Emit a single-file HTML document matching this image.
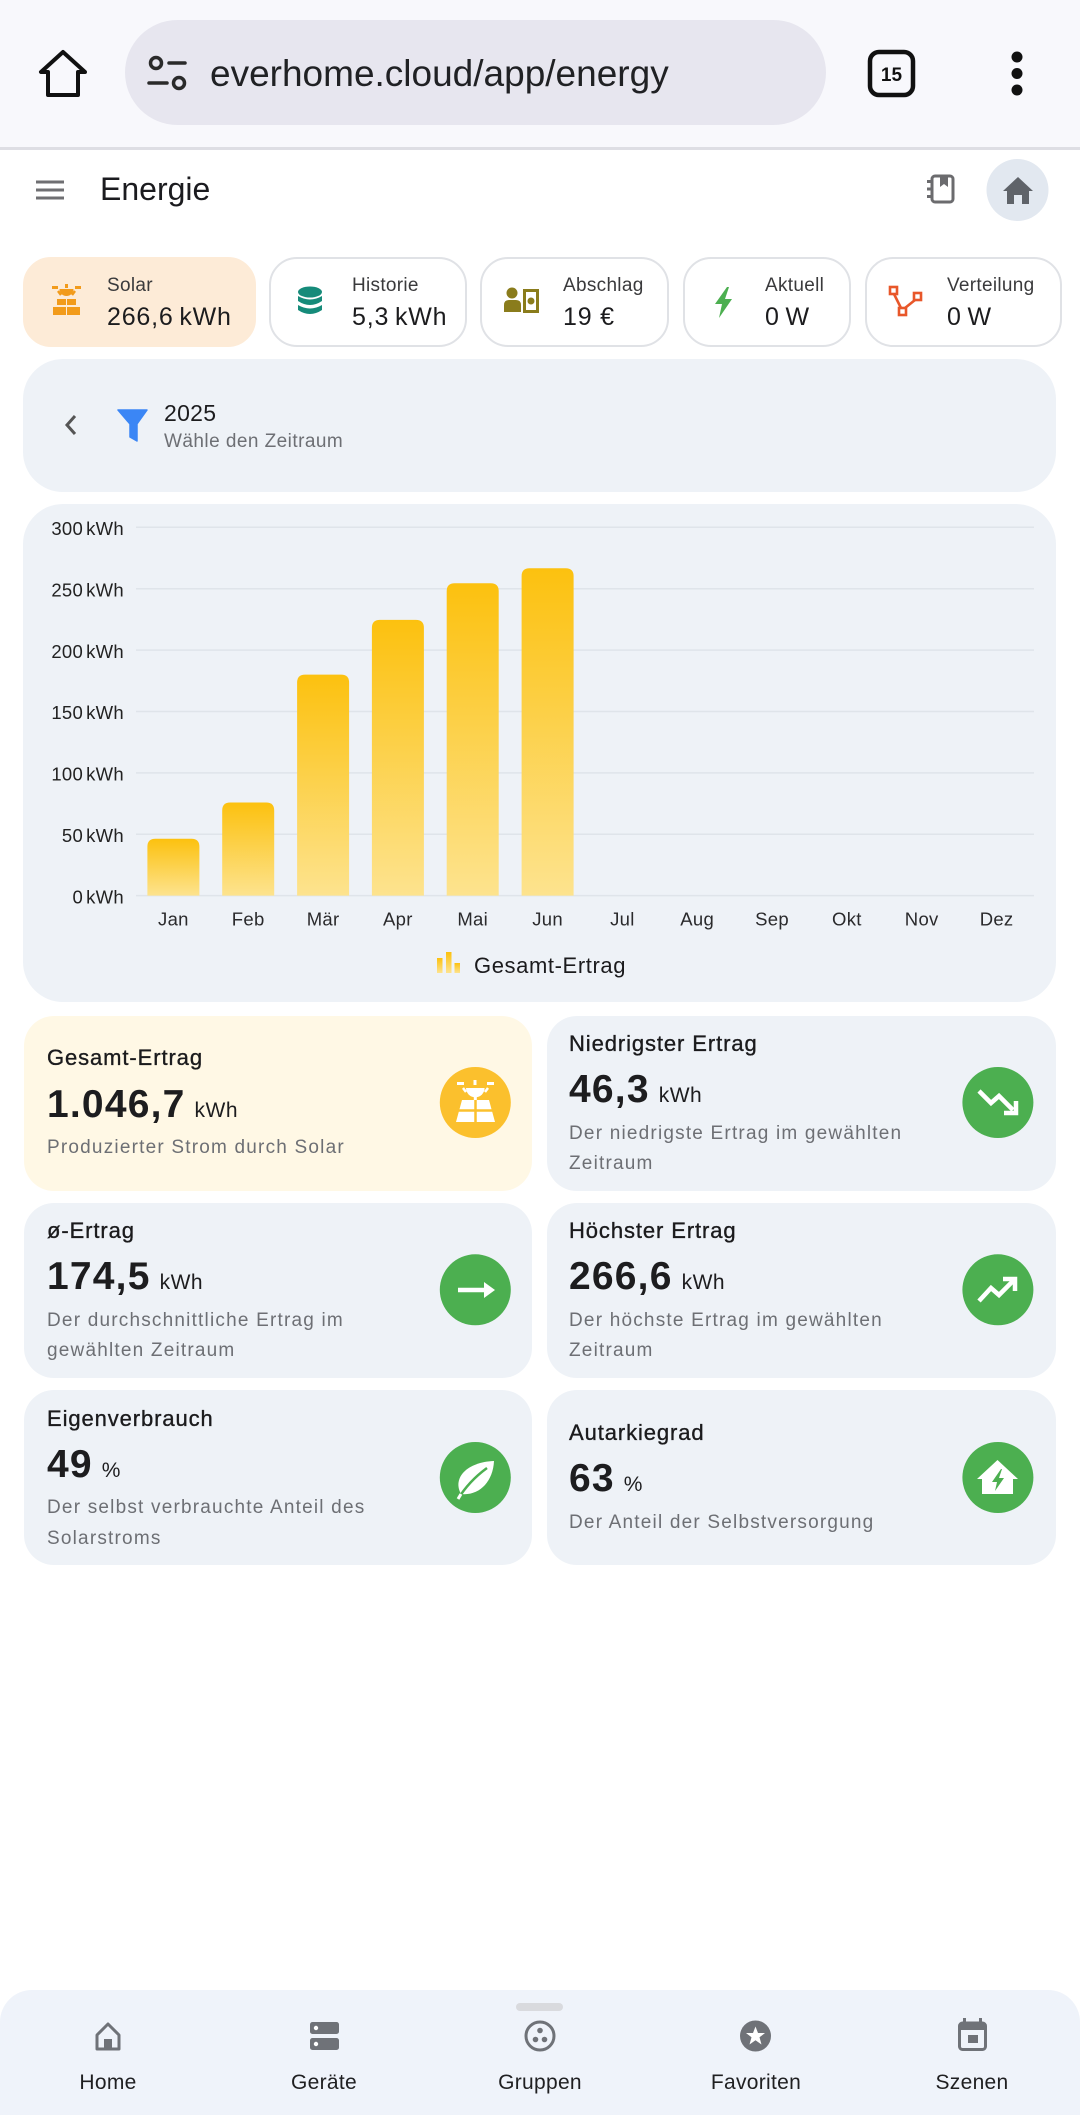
<!DOCTYPE html>
<html><head><meta charset="utf-8">
<style>
*{margin:0;padding:0;box-sizing:border-box}
html,body{width:1080px;height:2115px;background:#fff;overflow:hidden}
body{position:relative;font-family:"Liberation Sans",Arial,sans-serif;color:#1c1c1e}
.a{position:absolute}
.t{position:absolute;white-space:nowrap;line-height:1;z-index:3}
.chip{position:absolute;top:257px;height:90px;border-radius:28px;border:2px solid #e0e2e6;background:#fff}
.card{position:absolute;background:#eef2f7;border-radius:30px}
.cl{font-size:19px;color:#3a3a3c;letter-spacing:0.3px}
.cv{font-size:25px;color:#1c1c1e;letter-spacing:0.8px}
.st{font-size:22px;color:#1b1b1d;letter-spacing:0.9px;-webkit-text-stroke:0.35px #1b1b1d}
.sv{font-size:39px;font-weight:700;color:#1d1d1f;letter-spacing:1.2px}
.sv span{font-size:21px;font-weight:400;letter-spacing:0.5px;margin-left:9px}
.sd{position:absolute;white-space:nowrap;z-index:3;font-size:19px;line-height:30.4px;color:#6d6f74;letter-spacing:1.2px}
.nl{font-size:21px;color:#1f1f21;letter-spacing:0.3px;width:216px;text-align:center}
svg{position:absolute;left:0;top:0;z-index:2}
</style></head><body>

<!-- browser bar -->
<div class="a" style="left:0;top:0;width:1080px;height:147px;background:#f8f8fc"></div>
<div class="a" style="left:0;top:147px;width:1080px;height:3px;background:#dedee4"></div>
<div class="a" style="left:125px;top:20px;width:701px;height:105px;border-radius:53px;background:#e7e6ef"></div>
<div class="t" style="left:210px;top:55px;font-size:37px;color:#202124">everhome.cloud/app/energy</div>

<!-- app bar -->
<div class="t" style="left:100px;top:173px;font-size:32px;color:#1b1b1f">Energie</div>

<!-- chips -->
<div class="chip" style="left:23px;width:233px;background:#fdebd7;border-color:#fdebd7"></div>
<div class="chip" style="left:269px;width:198px"></div>
<div class="chip" style="left:480px;width:189px"></div>
<div class="chip" style="left:683px;width:168px"></div>
<div class="chip" style="left:865px;width:197px"></div>
<div class="t cl" style="left:107px;top:275.6px">Solar</div>
<div class="t cv" style="left:107px;top:304.8px">266,6&#8201;kWh</div>
<div class="t cl" style="left:352px;top:275.6px">Historie</div>
<div class="t cv" style="left:352px;top:304.8px">5,3&#8201;kWh</div>
<div class="t cl" style="left:563px;top:275.6px">Abschlag</div>
<div class="t cv" style="left:563px;top:304.8px">19 €</div>
<div class="t cl" style="left:765px;top:275.6px">Aktuell</div>
<div class="t cv" style="left:765px;top:304.8px">0&#8201;W</div>
<div class="t cl" style="left:947px;top:275.6px">Verteilung</div>
<div class="t cv" style="left:947px;top:304.8px">0&#8201;W</div>

<!-- filter card -->
<div class="card" style="left:23px;top:359px;width:1033px;height:133px;border-radius:40px"></div>
<div class="t" style="left:164px;top:402.2px;font-size:23px;color:#1c1c1e;letter-spacing:0.3px">2025</div>
<div class="t" style="left:164px;top:432.2px;font-size:19px;color:#6d6f74;letter-spacing:0.45px">Wähle den Zeitraum</div>

<!-- chart card -->
<div class="card" style="left:23px;top:504px;width:1033px;height:498px;border-radius:40px"></div>

<!-- stat cards -->
<div class="card" style="left:24px;top:1015.5px;width:508px;height:175px;background:#fff8e5"></div>
<div class="card" style="left:547px;top:1015.5px;width:509px;height:175px"></div>
<div class="card" style="left:24px;top:1202.7px;width:508px;height:175px"></div>
<div class="card" style="left:547px;top:1202.7px;width:509px;height:175px"></div>
<div class="card" style="left:24px;top:1390.3px;width:508px;height:175px"></div>
<div class="card" style="left:547px;top:1390.3px;width:509px;height:175px"></div>

<div class="t st" style="left:47px;top:1047.4px">Gesamt-Ertrag</div>
<div class="t sv" style="left:47px;top:1084.5px">1.046,7<span>kWh</span></div>
<div class="sd" style="left:47px;top:1132.7px">Produzierter Strom durch Solar</div>

<div class="t st" style="left:569px;top:1033.2px">Niedrigster Ertrag</div>
<div class="t sv" style="left:569px;top:1069.8px">46,3<span>kWh</span></div>
<div class="sd" style="left:569px;top:1118.5px">Der niedrigste Ertrag im gewählten<br>Zeitraum</div>

<div class="t st" style="left:47px;top:1220.4px">ø-Ertrag</div>
<div class="t sv" style="left:47px;top:1257px">174,5<span>kWh</span></div>
<div class="sd" style="left:47px;top:1305.7px">Der durchschnittliche Ertrag im<br>gewählten Zeitraum</div>

<div class="t st" style="left:569px;top:1220.4px">Höchster Ertrag</div>
<div class="t sv" style="left:569px;top:1257px">266,6<span>kWh</span></div>
<div class="sd" style="left:569px;top:1305.7px">Der höchste Ertrag im gewählten<br>Zeitraum</div>

<div class="t st" style="left:47px;top:1408px">Eigenverbrauch</div>
<div class="t sv" style="left:47px;top:1444.6px">49<span>%</span></div>
<div class="sd" style="left:47px;top:1493.3px">Der selbst verbrauchte Anteil des<br>Solarstroms</div>

<div class="t st" style="left:569px;top:1422.2px">Autarkiegrad</div>
<div class="t sv" style="left:569px;top:1458.8px">63<span>%</span></div>
<div class="sd" style="left:569px;top:1507.5px">Der Anteil der Selbstversorgung</div>

<!-- bottom nav -->
<div class="a" style="left:0;top:1990px;width:1080px;height:125px;background:#eff3fa;border-radius:32px 32px 0 0"></div>
<div class="t nl" style="left:0;top:2072.2px">Home</div>
<div class="t nl" style="left:216px;top:2072.2px">Geräte</div>
<div class="t nl" style="left:432px;top:2072.2px">Gruppen</div>
<div class="t nl" style="left:648px;top:2072.2px">Favoriten</div>
<div class="t nl" style="left:864px;top:2072.2px">Szenen</div>

<svg width="1080" height="2115" viewBox="0 0 1080 2115" xmlns="http://www.w3.org/2000/svg">
<defs>
<linearGradient id="bg" x1="0" y1="0" x2="0" y2="1">
<stop offset="0" stop-color="#fcc10f"/><stop offset="1" stop-color="#fde38e"/>
</linearGradient>
</defs>

<!-- browser icons -->
<path d="M63 52 L41 72 L48 72 L48 95 L78 95 L78 72 L85 72 Z" fill="none" stroke="#111" stroke-width="4" stroke-linejoin="round"/>
<g stroke="#2a2a2a" stroke-width="3.5" fill="none" stroke-linecap="round">
<circle cx="156" cy="63" r="5.5"/><line x1="169" y1="63" x2="185" y2="63"/>
<line x1="149" y1="83" x2="167" y2="83"/><circle cx="179" cy="83" r="5.5"/>
</g>
<rect x="870" y="52" width="43" height="43" rx="9" fill="none" stroke="#111" stroke-width="4.5"/>
<text x="891.5" y="81" text-anchor="middle" font-family="Liberation Sans" font-weight="700" font-size="19" fill="#111">15</text>
<circle cx="1017" cy="57" r="5.5" fill="#111"/><circle cx="1017" cy="73.5" r="5.5" fill="#111"/><circle cx="1017" cy="90" r="5.5" fill="#111"/>

<!-- app bar icons -->
<g fill="#6f6f72"><rect x="36" y="180.5" width="28" height="3"/><rect x="36" y="188.5" width="28" height="3"/><rect x="36" y="196.5" width="28" height="3"/></g>
<rect x="932" y="176" width="21" height="26" rx="3" fill="none" stroke="#6b6b6e" stroke-width="3"/>
<path d="M940 176 V187 L944 184 L948 187 V176 Z" fill="#6b6b6e"/>
<g fill="#6b6b6e"><rect x="927" y="180" width="6" height="3"/><rect x="927" y="187.5" width="6" height="3"/><rect x="927" y="195" width="6" height="3"/></g>
<circle cx="1017.5" cy="190" r="31" fill="#e2e8f0"/>
<path d="M1018 177 L1003 191 H1007 V204 H1014 V195 H1022 V204 H1029 V191 H1033 Z" fill="#5f6369"/>

<!-- chip icons -->
<g fill="#f29b1b">
<rect x="52" y="286" width="6" height="3"/><rect x="75" y="286" width="6" height="3"/>
<rect x="65" y="284" width="3" height="4"/>
<path d="M59.5 289 A7 7 0 0 0 73.5 289 Z"/>
<line x1="58" y1="291" x2="61" y2="295" stroke="#f29b1b" stroke-width="2.5"/>
<line x1="75" y1="291" x2="72" y2="295" stroke="#f29b1b" stroke-width="2.5"/>
<rect x="57" y="299" width="9" height="6"/><rect x="67" y="299" width="9" height="6"/>
<rect x="53" y="307" width="13" height="8"/><rect x="67" y="307" width="13" height="8"/>
</g>
<g fill="#168b7a">
<ellipse cx="310" cy="292" rx="12" ry="5.5"/>
<path d="M298 296 Q310 303 322 296 V301 Q310 309 298 301 Z"/>
<path d="M298 305 Q310 312 322 305 V310 Q310 318 298 310 Z"/>
</g>
<g fill="#8a7c1c">
<circle cx="512" cy="293" r="5.5"/>
<path d="M504 312 V305 Q504 300 509 300 H516 Q521 300 521 305 V312 Z"/>
<rect x="523" y="289" width="16" height="24"/>
</g>
<rect x="526" y="292" width="10" height="18" fill="#fff"/>
<circle cx="531" cy="301" r="3.5" fill="#8a7c1c"/>
<path d="M727 287 L715 304 L722 304 L719 318 L732 299 L725 299 L729 287 Z" fill="#4caf50"/>
<g stroke="#e8572a" stroke-width="2.6" fill="none">
<rect x="890" y="287" width="7" height="7"/><rect x="914" y="293" width="7" height="7"/><rect x="899" y="308" width="7" height="7"/>
<line x1="894" y1="294" x2="901" y2="308"/><line x1="905" y1="308" x2="915" y2="300"/>
</g>

<!-- filter card icons -->
<polyline points="75,416 67,425 75,434" fill="none" stroke="#555" stroke-width="3"/>
<path d="M118 410 H147 L137 424 V441 L130 437 V424 Z" fill="#3b86f5" stroke="#3b86f5" stroke-width="1.5" stroke-linejoin="round"/>

<!-- chart -->
<g stroke="#dfe4ea" stroke-width="1.5">
<line x1="136" y1="527.3" x2="1034" y2="527.3"/>
<line x1="136" y1="588.7" x2="1034" y2="588.7"/>
<line x1="136" y1="650.1" x2="1034" y2="650.1"/>
<line x1="136" y1="711.5" x2="1034" y2="711.5"/>
<line x1="136" y1="772.9" x2="1034" y2="772.9"/>
<line x1="136" y1="834.2" x2="1034" y2="834.2"/>
<line x1="136" y1="895.6" x2="1034" y2="895.6"/>
</g>
<g fill="url(#bg)">
<path d="M147.4 895.6 V846.7 Q147.4 838.7 155.4 838.7 H191.4 Q199.4 838.7 199.4 846.7 V895.6 Z"/>
<path d="M222.2 895.6 V810.5 Q222.2 802.5 230.2 802.5 H266.2 Q274.2 802.5 274.2 810.5 V895.6 Z"/>
<path d="M297.1 895.6 V682.6 Q297.1 674.6 305.1 674.6 H341.1 Q349.1 674.6 349.1 682.6 V895.6 Z"/>
<path d="M371.9 895.6 V627.9 Q371.9 619.9 379.9 619.9 H415.9 Q423.9 619.9 423.9 627.9 V895.6 Z"/>
<path d="M446.7 895.6 V591.3 Q446.7 583.3 454.7 583.3 H490.7 Q498.7 583.3 498.7 591.3 V895.6 Z"/>
<path d="M521.6 895.6 V576.2 Q521.6 568.2 529.6 568.2 H565.6 Q573.6 568.2 573.6 576.2 V895.6 Z"/>
</g>
<g font-family="Liberation Sans" font-size="18.5" fill="#222" text-anchor="end" letter-spacing="0.3">
<text x="124" y="535">300<tspan dx="3">kWh</tspan></text>
<text x="124" y="596.4">250<tspan dx="3">kWh</tspan></text>
<text x="124" y="657.8">200<tspan dx="3">kWh</tspan></text>
<text x="124" y="719.2">150<tspan dx="3">kWh</tspan></text>
<text x="124" y="780.6">100<tspan dx="3">kWh</tspan></text>
<text x="124" y="841.9">50<tspan dx="3">kWh</tspan></text>
<text x="124" y="903.3">0<tspan dx="3">kWh</tspan></text>
</g>
<g font-family="Liberation Sans" font-size="18.5" fill="#2a2a2c" text-anchor="middle" letter-spacing="0.3">
<text x="173.4" y="925.7">Jan</text><text x="248.2" y="925.7">Feb</text><text x="323.1" y="925.7">Mär</text>
<text x="397.9" y="925.7">Apr</text><text x="472.7" y="925.7">Mai</text><text x="547.6" y="925.7">Jun</text>
<text x="622.4" y="925.7">Jul</text><text x="697.2" y="925.7">Aug</text><text x="772.1" y="925.7">Sep</text>
<text x="846.9" y="925.7">Okt</text><text x="921.7" y="925.7">Nov</text><text x="996.6" y="925.7">Dez</text>
</g>
<g fill="url(#bg)">
<rect x="437" y="958" width="5.5" height="15"/><rect x="446" y="952" width="5.5" height="21"/><rect x="454.5" y="963" width="5.5" height="10"/>
</g>
<text x="474" y="973" font-family="Liberation Sans" font-size="22" fill="#1b1b1d" letter-spacing="0.6">Gesamt-Ertrag</text>

<!-- stat icons -->
<circle cx="475.3" cy="1102.5" r="35.5" fill="#fbc02d"/>
<g fill="#fff" stroke="#fff">
<rect x="457" y="1082" width="7" height="3" stroke="none"/><rect x="487" y="1082" width="7" height="3" stroke="none"/>
<rect x="473.5" y="1080" width="3" height="5" stroke="none"/>
<line x1="463" y1="1088" x2="466" y2="1092" stroke-width="2.5"/><line x1="488" y1="1088" x2="485" y2="1092" stroke-width="2.5"/>
<path d="M466 1088 A9.3 9.3 0 0 0 484.6 1088 Z" stroke="none"/>
<rect x="473.8" y="1094" width="3" height="7" stroke="none"/>
<polygon points="462,1100 489,1100 495,1122 456,1122" stroke="none"/>
</g>
<line x1="458" y1="1110.5" x2="493" y2="1110.5" stroke="#fbc02d" stroke-width="2.5"/>
<line x1="475.5" y1="1100" x2="475.5" y2="1122" stroke="#fbc02d" stroke-width="2.5"/>

<circle cx="997.9" cy="1102.5" r="35.5" fill="#4caf50"/>
<g fill="none" stroke="#fff" stroke-width="4.5" stroke-linejoin="miter">
<polyline points="979,1091 991,1103 999,1096 1013,1110"/>
<polyline points="1004,1113 1016,1113 1016,1101"/>
</g>

<circle cx="475.3" cy="1289.8" r="35.5" fill="#4caf50"/>
<line x1="458" y1="1290" x2="487" y2="1290" stroke="#fff" stroke-width="4.5"/>
<polygon points="484,1282 495,1290 484,1298" fill="#fff"/>

<circle cx="997.9" cy="1289.8" r="35.5" fill="#4caf50"/>
<g fill="none" stroke="#fff" stroke-width="4.5">
<polyline points="979,1301 991,1288 999,1295 1013,1281"/>
<polyline points="1003,1279 1015,1279 1015,1291"/>
</g>

<circle cx="475.3" cy="1477.5" r="35.5" fill="#4caf50"/>
<path d="M494 1461 C467 1462 452 1478 461 1494 C479 1496 493 1482 494 1461 Z" fill="#fff"/>
<path d="M458 1499 C466 1486 476 1476 487 1468" fill="none" stroke="#4caf50" stroke-width="2.5"/>
<path d="M458 1499 L461 1494" stroke="#fff" stroke-width="3"/>

<circle cx="997.9" cy="1477.5" r="35.5" fill="#4caf50"/>
<polygon points="997.5,1460 977,1479 982,1479 982,1494 1013,1494 1013,1479 1018,1479" fill="#fff"/>
<polygon points="1001,1469 992,1482 997,1482 995,1491 1004,1478 999,1478 1002,1469" fill="#4caf50"/>

<!-- bottom nav icons -->
<rect x="516" y="2003" width="47" height="8" rx="4" fill="#d9dade"/>
<g fill="#6f7278" stroke="#6f7278">
<path d="M108 2024 L97 2035 V2049 H119 V2035 Z" fill="none" stroke-width="3" stroke-linejoin="round"/>
<rect x="104" y="2039" width="8" height="11" stroke="none"/>
<rect x="310" y="2022" width="29" height="12" rx="2.5" stroke="none"/>
<rect x="310" y="2038" width="29" height="12" rx="2.5" stroke="none"/>
<circle cx="540" cy="2036" r="14" fill="none" stroke-width="3"/>
<circle cx="540" cy="2030.5" r="2.8" stroke="none"/><circle cx="535.5" cy="2039.5" r="2.8" stroke="none"/><circle cx="544.5" cy="2039.5" r="2.8" stroke="none"/>
<circle cx="755.5" cy="2036" r="15.5" stroke="none"/>
<rect x="959.5" y="2023" width="26" height="26.5" rx="3" fill="none" stroke-width="3"/>
<rect x="959.5" y="2023" width="26" height="7" stroke="none"/>
<rect x="963" y="2018" width="3" height="6" stroke="none"/><rect x="979" y="2018" width="3" height="6" stroke="none"/>
<rect x="968" y="2035" width="10" height="8" stroke="none"/>
</g>
<circle cx="316" cy="2028" r="2.2" fill="#fff"/><circle cx="316" cy="2044" r="2.2" fill="#fff"/>
<polygon points="755.5,2026.5 758,2033 765,2033 759.5,2037.3 761.5,2044.5 755.5,2040.3 749.5,2044.5 751.5,2037.3 746,2033 753,2033" fill="#fff"/>
</svg>
</body></html>
